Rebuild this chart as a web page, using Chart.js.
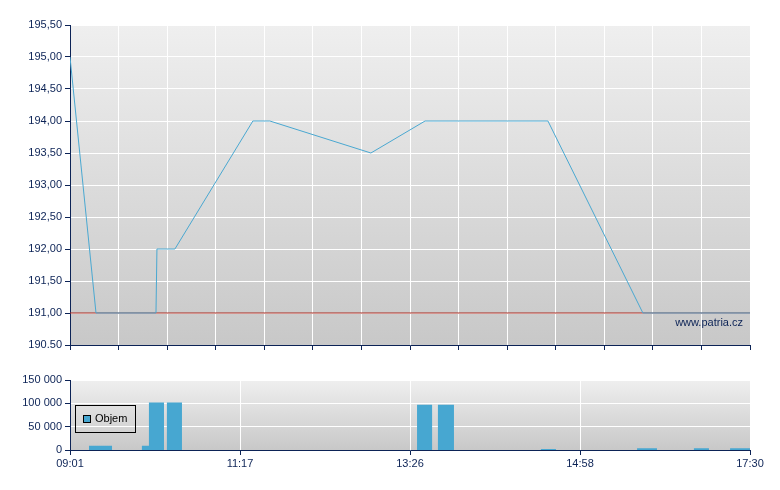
<!DOCTYPE html>
<html>
<head>
<meta charset="utf-8">
<script src="https://cdn.jsdelivr.net/npm/chart.js@4.4.1/dist/chart.umd.min.js"></script>
<style>
    body { margin: 0; background: #fff; }
    #wrap { position: relative; width: 780px; height: 490px; font-family: "Liberation Sans", Arial, sans-serif; }
    canvas { position: absolute; left: 0; }
    #priceChart { top: 0; }
    #volChart { top: 362px; }
    .watermark { position: absolute; right: 37px; top: 316px; font-size: 11px; color: #0c2356; }
    .legend { position: absolute; left: 75px; top: 405px; width: 59px; height: 26px; border: 1px solid #000; font-size: 11px; color: #000; }
    .legend .box { position: absolute; left: 7px; top: 9px; width: 6px; height: 6px; border: 1px solid #000; background: #47a7d1; }
    .legend .txt { position: absolute; left: 19px; top: 6px; line-height: 13px; }
</style>
</head>
<body>
<div id="wrap">
    <canvas id="priceChart" width="780" height="360"></canvas>
    <canvas id="volChart" width="780" height="128"></canvas>
    <div class="watermark">www.patria.cz</div>
    <div class="legend"><span class="box"></span><span class="txt">Objem</span></div>
</div>
<script>
// osa x: 28 dílků (0 = 09:01, 28 = 17:30)
const priceX = [0, 1.07, 3.54, 3.58, 4.32, 7.53, 8.23, 12.39, 14.62, 19.68, 23.59, 28];
const priceY = [195.0, 191.0, 191.0, 192.0, 192.0, 194.0, 194.0, 193.5, 194.0, 194.0, 191.0, 191.0];
const refPrice = 191.0;
const priceTickLabels = ['190.50', '191,00', '191,50', '192,00', '192,50', '193,00', '193,50', '194,00', '194,50', '195,00', '195,50'];

const volStart = [0.78, 2.96, 3.25, 3.99, 14.29, 15.15, 19.39, 23.35, 25.69, 27.18];
const volEnd   = [1.73, 3.25, 3.87, 4.61, 14.91, 15.81, 20.01, 24.17, 26.31, 28.0];
const volValue = [9000, 9000, 102000, 102000, 97000, 97000, 2000, 4000, 4000, 4000];
const volTickLabels = ['0', '50 000', '100 000', '150 000'];
const timeLabels = ['09:01', '11:17', '13:26', '14:58', '17:30'];

const NAVY = '#0c2356';
Chart.defaults.font.family = '"Liberation Sans", Arial, sans-serif';
Chart.defaults.font.size = 11;
Chart.defaults.color = NAVY;

// šedý přechod pod grafem
const plotBg = {
    id: 'plotBg',
    beforeDraw(chart, args, opts) {
        const a = chart.chartArea;
        const ctx = chart.ctx;
        const g = ctx.createLinearGradient(0, a.top, 0, a.bottom);
        g.addColorStop(0, opts.top);
        g.addColorStop(1, opts.bottom);
        ctx.save();
        ctx.fillStyle = g;
        ctx.fillRect(a.left, a.top, a.right - a.left, a.bottom - a.top);
        ctx.restore();
    }
};

function fixWidth(w) { return function(s) { s.width = w; }; }
function fixHeight(h) { return function(s) { s.height = h; }; }

new Chart(document.getElementById('priceChart'), {
    type: 'scatter',
    data: {
        datasets: [
            {
                data: priceX.map((x, i) => ({ x: x, y: priceY[i] })),
                showLine: true,
                borderColor: '#4aa8d1',
                borderWidth: 1,
                pointRadius: 0,
                order: 0
            },
            {
                data: [{ x: 0, y: refPrice }, { x: 28, y: refPrice }],
                showLine: true,
                borderColor: '#a8281e',
                borderWidth: 1,
                pointRadius: 0,
                order: 1
            }
        ]
    },
    options: {
        responsive: false,
        animation: false,
        layout: { padding: { top: 25, right: 30, left: 0, bottom: 0 } },
        plugins: {
            legend: { display: false },
            tooltip: { enabled: false },
            plotBg: { top: '#efefef', bottom: '#c8c8c8' }
        },
        scales: {
            x: {
                type: 'linear',
                min: 0,
                max: 28,
                ticks: { stepSize: 2, display: false },
                grid: { color: '#ffffff', tickColor: NAVY, tickLength: 5 },
                border: { color: NAVY, width: 1 },
                afterFit: fixHeight(15)
            },
            y: {
                min: 190.5,
                max: 195.5,
                ticks: {
                    stepSize: 0.5,
                    padding: 3,
                    callback: (v, i) => priceTickLabels[i]
                },
                grid: { color: '#ffffff', tickColor: NAVY, tickLength: 5 },
                border: { color: NAVY, width: 1 },
                afterFit: fixWidth(70)
            }
        }
    },
    plugins: [plotBg]
});

// objem jako vyplněné sloupce přes intervaly
const volPoints = [];
volStart.forEach((s, i) => {
    volPoints.push({ x: s, y: 0 }, { x: s, y: volValue[i] }, { x: volEnd[i], y: volValue[i] }, { x: volEnd[i], y: 0 });
});

new Chart(document.getElementById('volChart'), {
    type: 'scatter',
    data: {
        datasets: [{
            label: 'Objem',
            data: volPoints,
            showLine: true,
            fill: 'origin',
            backgroundColor: '#47a7d1',
            borderWidth: 0,
            pointRadius: 0
        }]
    },
    options: {
        responsive: false,
        animation: false,
        layout: { padding: { top: 18, right: 30, left: 0, bottom: 0 } },
        plugins: {
            legend: { display: false },
            tooltip: { enabled: false },
            plotBg: { top: '#efefef', bottom: '#c8c8c8' }
        },
        scales: {
            x: {
                type: 'linear',
                min: 0,
                max: 28,
                ticks: {
                    stepSize: 7,
                    padding: 2,
                    maxRotation: 0,
                    autoSkip: false,
                    callback: (v, i) => timeLabels[i]
                },
                grid: { color: '#ffffff', tickColor: NAVY, tickLength: 5 },
                border: { color: NAVY, width: 1 },
                afterFit: fixHeight(40)
            },
            y: {
                min: 0,
                max: 150000,
                ticks: {
                    stepSize: 50000,
                    padding: 3,
                    callback: (v, i) => volTickLabels[i]
                },
                grid: { color: '#ffffff', tickColor: NAVY, tickLength: 5 },
                border: { color: NAVY, width: 1 },
                afterFit: fixWidth(70)
            }
        }
    },
    plugins: [plotBg]
});
</script>
</body>
</html>
